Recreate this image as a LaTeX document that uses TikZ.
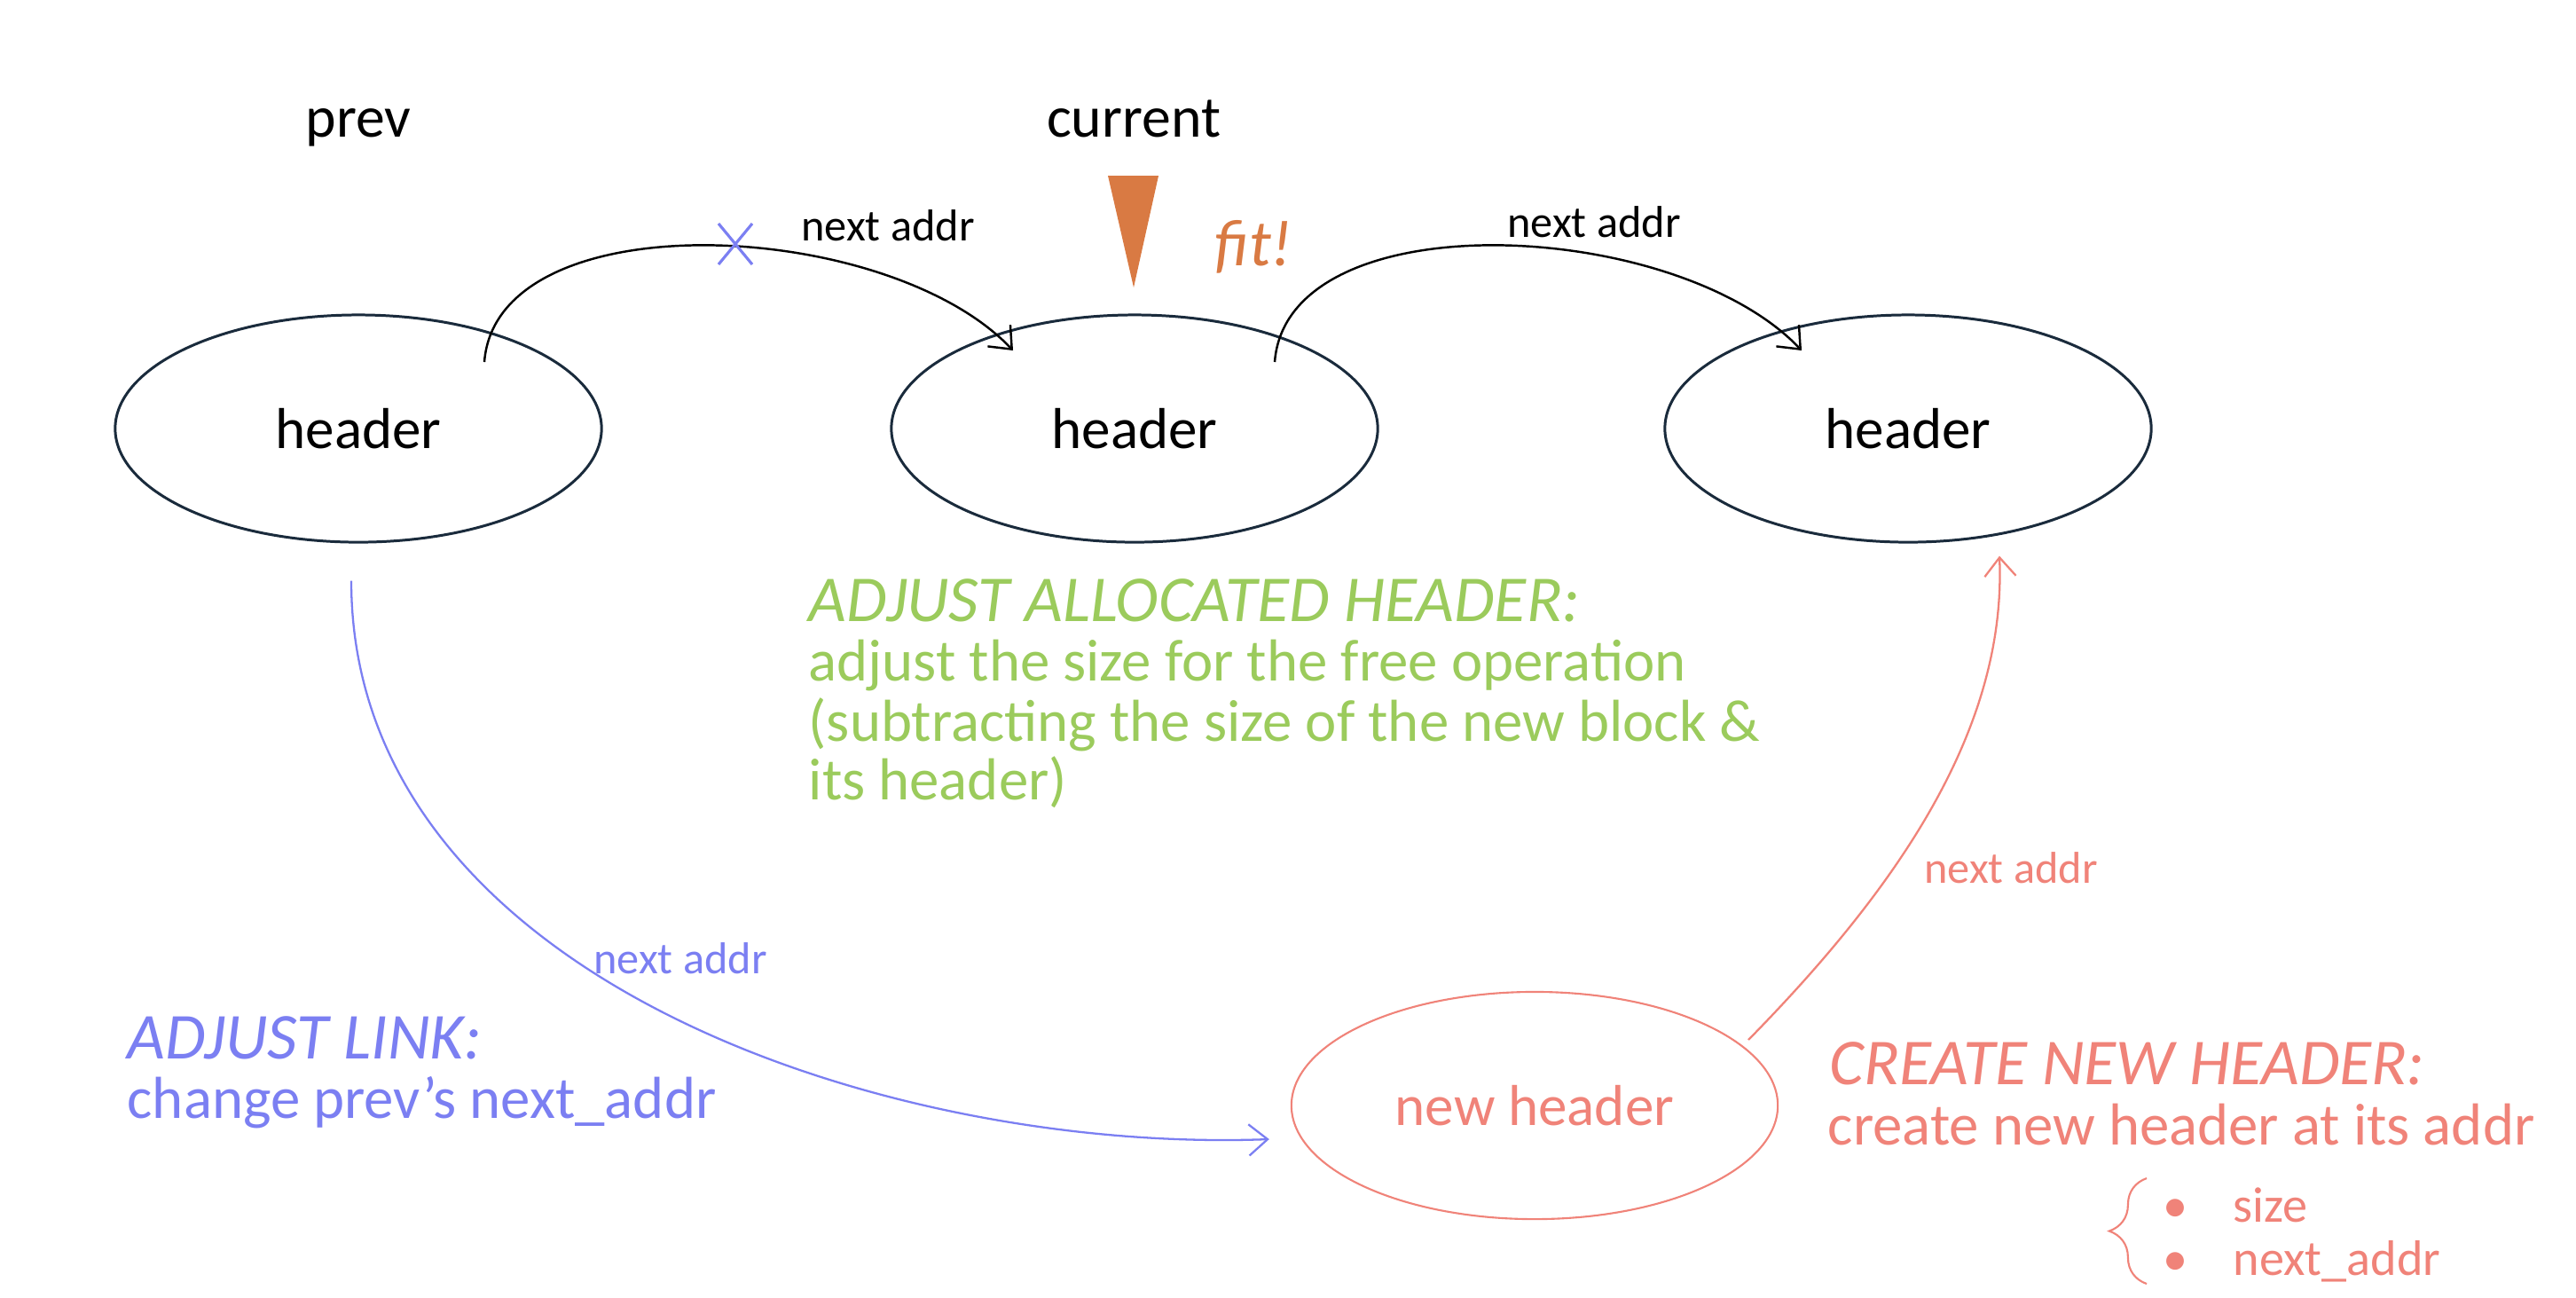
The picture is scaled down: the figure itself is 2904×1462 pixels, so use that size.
\documentclass[tikz,border=0pt]{standalone}
\usepackage{fontspec}
\setmainfont{Carlito}
\usetikzlibrary{arrows.meta,shapes.geometric,calc,decorations.pathreplacing}
\definecolor{ink}{HTML}{1A2B3C}
\definecolor{cblue}{HTML}{7B7FF2}
\definecolor{cgreen}{HTML}{9BCB5C}
\definecolor{cred}{HTML}{F08379}
\definecolor{corange}{HTML}{D97A43}
\begin{document}
\begin{tikzpicture}[x=0.01cm,y=-0.01cm,
  hdr/.style={ellipse, draw=ink, line width=0.85pt, minimum width=5.48cm, minimum height=2.56cm, inner sep=0pt, font=\fontsize{18.5}{21}\selectfont},
  lbl/.style={font=\fontsize{14.3}{16}\selectfont, inner sep=0pt, anchor=base},
  big/.style={font=\fontsize{18.7}{21}\selectfont, inner sep=0pt, anchor=base},
  link/.style={line width=0.7pt, -{Straight Barb[length=6pt,width=10pt]}},
  ttl/.style={font=\fontsize{21}{24}\selectfont\itshape, anchor=base west, inner sep=0pt},
  bodytxt/.style={font=\fontsize{19}{22}\selectfont, anchor=base west, inner sep=0pt},
  item/.style={font=\fontsize{16}{19}\selectfont, anchor=base west, inner sep=0pt},
]
\useasboundingbox[fill=white] (0,0) rectangle (2904,1462);

% header nodes
\node[hdr] (h1) at (404,483) {header};
\node[hdr] (h2) at (1279,483) {header};
\node[hdr] (h3) at (2151,483) {header};
\node[hdr, draw=cred, text=cred, line width=0.6pt] (nh) at (1730,1246) {new header};

% top labels
\node[big] (prev) at (404,154) {prev};
\node[big] (cur) at (1278,154) {current};
\fill[corange] (1249,198) -- (1306,198) -- (1278,324) -- cycle;
\node[font=\fontsize{21}{24}\selectfont\itshape, text=corange, inner sep=0pt, anchor=base] (fit) at (1413,299) {fit!};

% black links
\draw[link, black] ($(h1)+(142,-75)$) .. controls +(14,-183) and +(-142,-150) .. ($(h2)+(-137,-88)$);
\draw[link, black] ($(h2)+(158,-75)$) .. controls +(14,-183) and +(-142,-150) .. ($(h3)+(-120,-88)$);
\node[lbl] (l1) at (1001,271) {next addr};
\node[lbl] (l2) at (1797,267) {next addr};

% blue cross
\draw[cblue, line width=0.9pt] (810,252) -- (848,298) (848,252) -- (810,298);

% blue link
\draw[link, cblue, line width=0.65pt] ($(h1.south)+(-8,42)$) .. controls +(0,447) and +(-432,16) .. ($(nh.west)+(-24,38)$);
\node[lbl, text=cblue] (l3) at (767,1097) {next addr};
\node[ttl, text=cblue] (t1) at (143,1193) {ADJUST LINK:};
\node[bodytxt, text=cblue] (b1) at (143,1260) {change prev's next\_addr};

% green text
\node[ttl, text=cgreen] (t2) at (911,700) {ADJUST ALLOCATED HEADER:};
\node[bodytxt, text=cgreen] (g1) at (911,767) {adjust the size for the free operation};
\node[bodytxt, text=cgreen] (g2) at (911,835) {(subtracting the size of the new block \&};
\node[bodytxt, text=cgreen] (g3) at (911,901) {its header)};

% red link
\draw[link, cred, line width=0.65pt] ($(nh)+(241,-74)$) .. controls +(169,-172) and +(8,195) .. ($(h3.south)+(103,14)$);
\node[lbl, text=cred] (l4) at (2267,995) {next addr};
\node[ttl, text=cred] (t3) at (2062,1222) {CREATE NEW HEADER:};
\node[bodytxt, text=cred] (r1) at (2060,1290) {create new header at its addr};

% brace and items
\draw[cred, line width=0.6pt, decorate, decoration={brace, amplitude=12pt, aspect=0.5}] (2420,1447) -- (2420,1328);
\node[item, text=cred, anchor=base] (bu1) at (2452,1377) {•};
\node[item, text=cred, anchor=base] (bu2) at (2452,1437) {•};
\node[item, text=cred] (i1) at (2517,1377) {size};
\node[item, text=cred] (i2) at (2517,1437) {next\_addr};
\end{tikzpicture}
\end{document}
